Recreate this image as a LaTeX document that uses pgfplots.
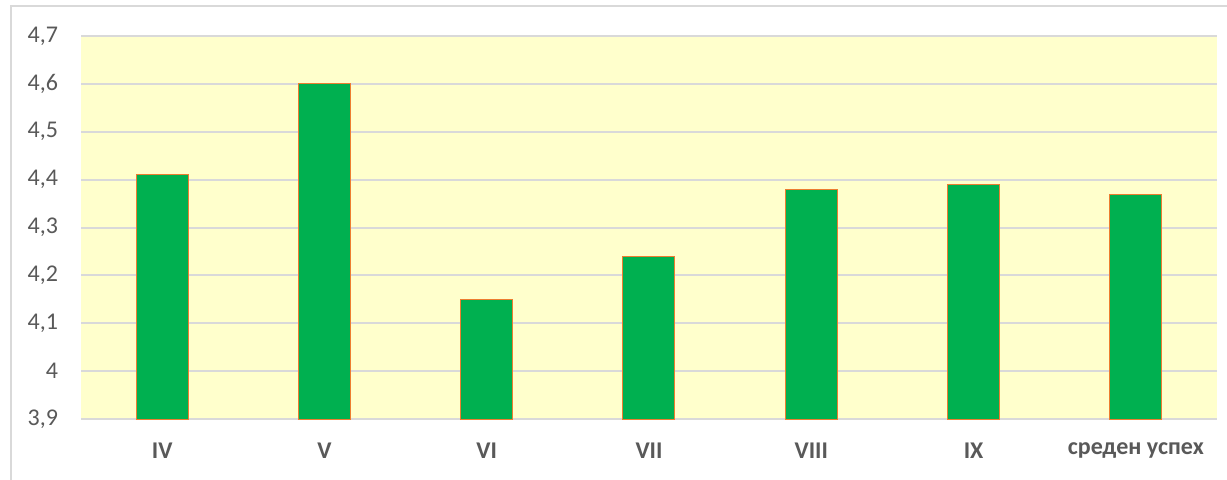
\documentclass[border=0pt]{standalone}
\usepackage{pgfplots}
\pgfplotsset{compat=1.18}
\usepackage{fontspec}
\setmainfont{Carlito}
\definecolor{bargreen}{RGB}{0,176,80}
\definecolor{barorange}{RGB}{237,125,49}
\definecolor{bgyellow}{RGB}{255,255,204}
\definecolor{gridgray}{RGB}{217,217,217}
\definecolor{txtgray}{RGB}{89,89,89}
\begin{document}
\begin{tikzpicture}
\useasboundingbox (0,0) rectangle (613.5pt,239.5pt);
\fill[white] (0,0) rectangle (613.5pt,239.5pt);
\draw[gridgray, line width=1pt] (5.5pt,-5pt) -- (5.5pt,236.5pt) -- (620pt,236.5pt);
\begin{axis}[
  at={(40.5pt,30pt)}, anchor=south west,
  scale only axis,
  width=568pt, height=191.5pt,
  xmin=-0.5, xmax=6.5,
  ymin=3.9, ymax=4.7,
  ybar, bar width=26pt,
  xtick=data,
  xticklabels={IV,V,VI,VII,VIII,IX,среден успех},
  ytick={3.9,4,4.1,4.2,4.3,4.4,4.5,4.6,4.7},
  yticklabels={{3,9},4,{4,1},{4,2},{4,3},{4,4},{4,5},{4,6},{4,7}},
  ymajorgrids, grid style={gridgray, line width=1pt},
  axis line style={draw=none},
  major tick length=0pt,
  axis background/.style={fill=bgyellow},
  tick label style={font=\fontsize{12}{14}\selectfont, text=txtgray},
  xticklabel style={font=\fontsize{12}{14}\selectfont\bfseries, yshift=-8.5pt},
  yticklabel style={xshift=-8pt},
  clip=false,
]
\addplot[fill=bargreen, draw=barorange, line width=0.5pt] coordinates {
(0,4.41) (1,4.60) (2,4.15) (3,4.24) (4,4.38) (5,4.39) (6,4.37)
};
\end{axis}
\end{tikzpicture}
\end{document}
